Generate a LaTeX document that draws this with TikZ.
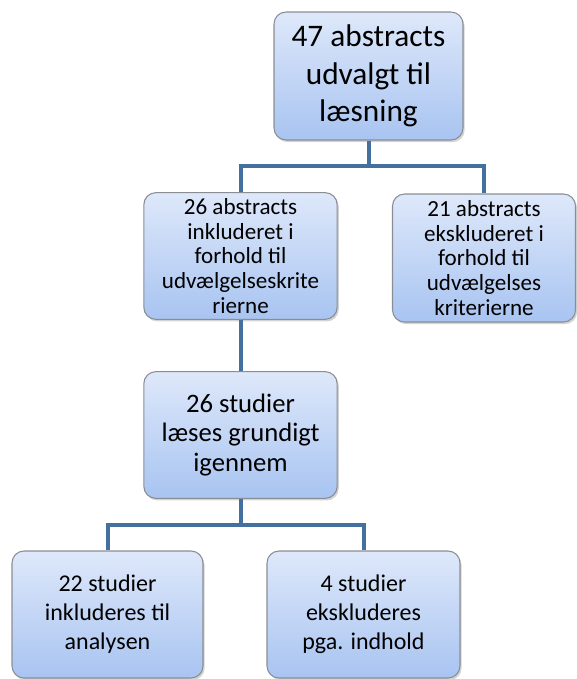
\documentclass[tikz,border=0pt]{standalone}
\usepackage{fontspec}
\setmainfont{Carlito}
\usepackage{xcolor}
\usetikzlibrary{positioning,shadows,calc}
\definecolor{lysblaa}{HTML}{DEE8FA}
\definecolor{blaa}{HTML}{A8C4F1}
\definecolor{kant}{HTML}{8A8E94}
\definecolor{linje}{HTML}{44709F}

\begin{document}
\begin{tikzpicture}[
  x=0.75pt, y=-0.75pt,
  boks/.style={draw=kant, line width=0.8pt, rounded corners=9pt, align=center,
    top color=lysblaa, bottom color=blaa, inner sep=2pt,
    drop shadow={opacity=0.35, shadow xshift=1.2pt, shadow yshift=-1.6pt}},
  stor/.style={font=\fontsize{23.5}{28}\selectfont},
  lille/.style={font=\fontsize{17.3}{18.6}\selectfont},
  mellem/.style={font=\fontsize{18}{21.8}\selectfont},
  forbind/.style={draw=linje, line width=3pt}
]
  \useasboundingbox (0,0) rectangle (577,679);
  \node[boks, stor, minimum width=141.75pt, minimum height=96pt] (laes) at (368.5,76)
    {47 abstracts\\udvalgt til\\læsning};
  \node[boks, lille, minimum width=145pt, minimum height=95pt] (inkl) at (240.5,256)
    {26 abstracts\\inkluderet i\\forhold til\\udvælgelseskrite\\rierne};
  \node[boks, lille, minimum width=137.25pt, minimum height=96pt] (ekskl) at (484,258)
    {21 abstracts\\ekskluderet i\\forhold til\\udvælgelses\\kriterierne};
  \node[boks, mellem, font=\fontsize{20}{21.8}\selectfont, minimum width=145pt, minimum height=95pt] (grundig) at (240.5,435)
    {26 studier\\læses grundigt\\igennem};
  \node[boks, mellem, minimum width=143.25pt, minimum height=95.25pt] (analyse) at (107.5,614.5)
    {22 studier\\inkluderes til\\analysen};
  \node[boks, mellem, minimum width=144.75pt, minimum height=95.25pt] (indhold) at (363.5,614.5)
    {4 studier\\ekskluderes\\pga. indhold};
  % forbindelser
  \draw[forbind] (laes.south) -- ++(0,25) -| (inkl.north);
  \draw[forbind] (laes.south) -- ++(0,25) -| (ekskl.north);
  \draw[forbind] (inkl.south) -- (grundig.north);
  \draw[forbind] (grundig.south) -- ++(0,26) -| (analyse.north);
  \draw[forbind] (grundig.south) -- ++(0,26) -| (indhold.north);
\end{tikzpicture}
\end{document}
